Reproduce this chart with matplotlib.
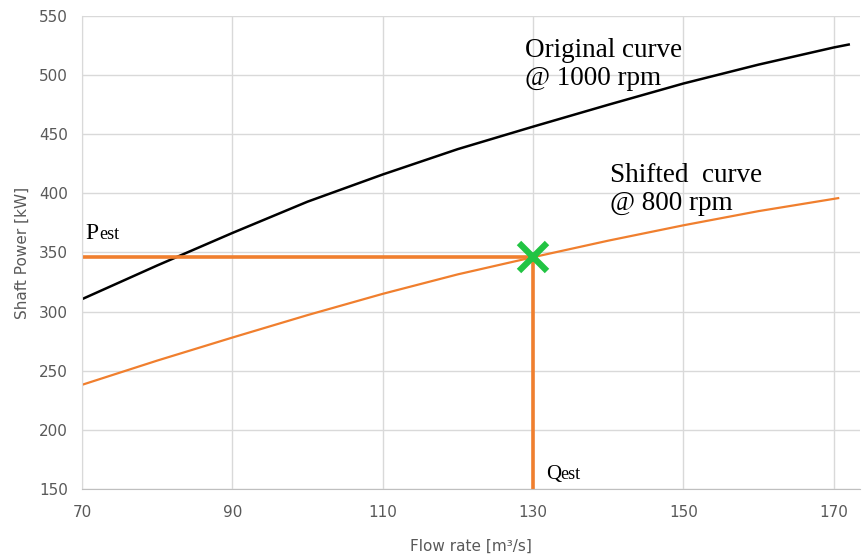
import matplotlib.pyplot as plt

# Power curves
q_orig = [70, 80, 90, 100, 110, 120, 130, 140, 150, 160, 170, 172]
p_orig = [310.5, 339, 366.5, 393, 416, 437.5, 456.5, 475, 493, 509, 523.5, 526]

q_shift = [70, 80, 90, 100, 110, 120, 130, 140, 150, 160, 170.6]
p_shift = [238, 258.5, 278, 297, 315, 331.5, 346, 360, 373, 385, 396]

q_est = 130
p_est = 346

xticks = [70, 90, 110, 130, 150, 170]
yticks = [150, 200, 250, 300, 350, 400, 450, 500, 550]

orange = '#f07f2e'
grey = '#595959'
serif = 'Liberation Serif'

fig = plt.figure(figsize=(8.63, 5.58), dpi=100)
ax = fig.add_axes([0.095, 0.124, 0.9015, 0.847])

ax.plot(q_orig, p_orig, color='black', lw=1.8)
ax.plot(q_shift, p_shift, color=orange, lw=1.6)
ax.plot([70, q_est], [p_est, p_est], color=orange, lw=2.6, solid_capstyle='butt')
ax.plot([q_est, q_est], [150, p_est], color=orange, lw=2.6, solid_capstyle='butt')
ax.plot(q_est, p_est, marker='x', color='#22c443', markersize=20, mew=4.5)

ax.set_xlim(70, 173.5)
ax.set_ylim(150, 550)
ax.set_xticks(xticks)
ax.set_yticks(yticks)
ax.tick_params(axis='x', length=0, labelsize=11, labelcolor=grey, pad=12)
ax.tick_params(axis='y', length=0, labelsize=11, labelcolor=grey, pad=10)
ax.grid(True, color='#d9d9d9', lw=1)
ax.set_axisbelow(True)
for s in ['top', 'right']:
    ax.spines[s].set_visible(False)
ax.spines['left'].set_color('#d9d9d9')
ax.spines['bottom'].set_color('#bfbfbf')

ax.set_xlabel('Flow rate [m³/s]', fontsize=11, color=grey, labelpad=13)
ax.set_ylabel('Shaft Power [kW]', fontsize=11, color=grey, labelpad=7)

ax.text(129, 515.3, 'Original curve', family=serif, fontsize=19.5, va='baseline')
ax.text(129, 491.6, '@ 1000 rpm', family=serif, fontsize=19.5, va='baseline')
ax.text(140.3, 409.6, 'Shifted  curve', family=serif, fontsize=19.5, va='baseline')
ax.text(140.3, 386, '@ 800 rpm', family=serif, fontsize=19.5, va='baseline')

ax.text(70.5, 361.3, 'P', family=serif, fontsize=17, va='baseline')
ax.annotate('est', xy=(70.5, 361.3), xytext=(9.5, 0), textcoords='offset points',
            family=serif, fontsize=13, va='baseline')
ax.text(131.8, 158.3, 'Q', family=serif, fontsize=15, va='baseline')
ax.annotate('est', xy=(131.8, 158.3), xytext=(10, 0), textcoords='offset points',
            family=serif, fontsize=13, va='baseline')

fig.savefig('out.png')
